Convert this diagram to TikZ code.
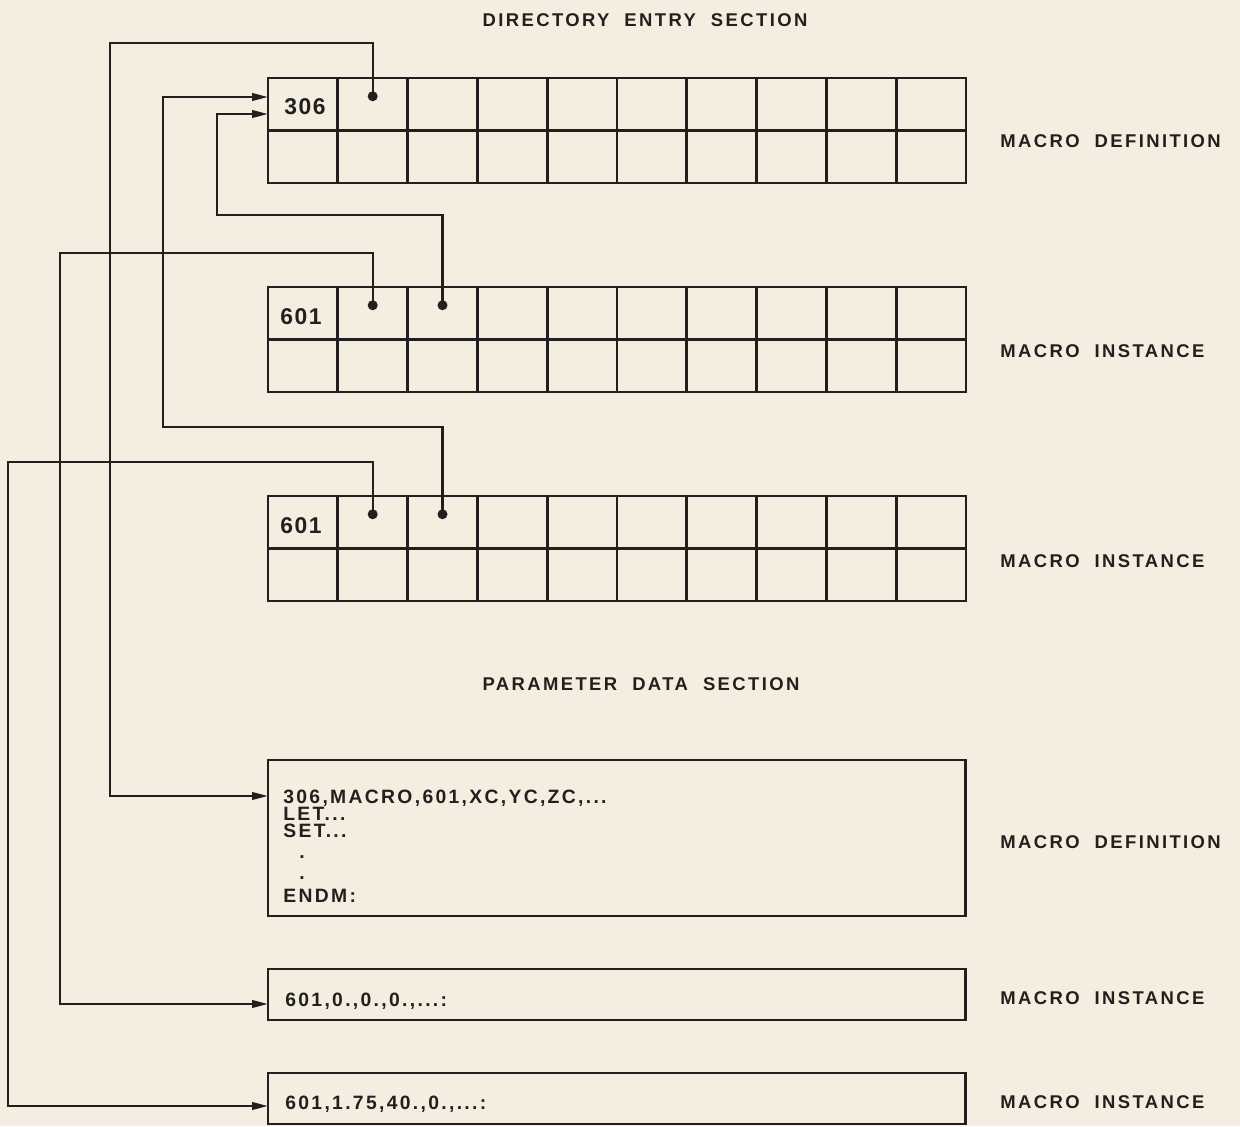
\documentclass[tikz,border=0pt]{standalone}
\usepackage{fontspec}
\newfontfamily\entryfont[LetterSpace=12]{Liberation Sans}
\newfontfamily\cellfont[LetterSpace=7]{Liberation Sans}
\newfontfamily\labelfont[LetterSpace=13, WordSpace=2]{Liberation Sans}
\usetikzlibrary{arrows.meta, positioning, calc}
\definecolor{paper}{RGB}{243,238,223}
\definecolor{ink}{RGB}{35,31,30}
\tikzset{
    cell/.style={rectangle, draw=ink, line width=1.6pt, minimum width=1.396cm, minimum height=1.05cm, inner sep=0pt, outer sep=0pt},
    databox/.style={rectangle, draw=ink, line width=1.6pt, minimum width=13.96cm, inner sep=0pt, outer sep=0pt, anchor=north west},
    entry/.style={font=\entryfont\bfseries\fontsize{11}{12}\selectfont, text=ink, inner sep=0pt, anchor=base west},
    cellnum/.style={font=\cellfont\bfseries\fontsize{13}{14}\selectfont, text=ink, inner sep=0pt},
    caption/.style={font=\labelfont\bfseries\fontsize{10.5}{12}\selectfont, text=ink, inner sep=0pt},
    link/.style={-{Triangle[length=0.32cm, width=0.15cm]}, draw=ink, line width=1.3pt},
    pin/.style={fill=ink}
}
\begin{document}
\begin{tikzpicture}[x=0.02cm, y=-0.02cm]
    \useasboundingbox (0,0) rectangle (1240,1126);
    \fill[paper] (0,0) rectangle (1240,1126);

    % directory entry section: three records of 2 x 10 cells
    \foreach \g/\ty in {def/78, insA/287, insB/496}{
        \foreach \c in {1,...,10}{
            \node[cell] (\g-\c) at ({302.9+(\c-1)*69.8}, {\ty+26.25}) {};
            \node[cell, below=0pt of \g-\c] (\g-\c-low) {};
        }
    }
    \node[cellnum] (num-def) at ($(def-1)+(2,2)$) {306};
    \node[cellnum] (num-insA) at ($(insA-1)+(-2,3)$) {601};
    \node[cellnum] (num-insB) at ($(insB-1)+(-2,3)$) {601};

    % parameter data section
    \node[databox, minimum height=3.12cm] (pdef) at (268,760) {};
    \node[databox, minimum height=1.02cm] (pinsA) at (268,969) {};
    \node[databox, minimum height=1.02cm] (pinsB) at (268,1073) {};

    \node[entry] (pdef-l1) at (283,803) {306,MACRO,601,XC,YC,ZC,...};
    \node[entry] (pdef-l2) at (283,820) {LET...};
    \node[entry] (pdef-l3) at (283,837) {SET...};
    \node[entry] (pdef-l4) at (299,858) {.};
    \node[entry] (pdef-l5) at (299,879) {.};
    \node[entry] (pdef-l6) at (283,902) {ENDM:};
    \node[entry] (pinsA-txt) at (285,1006) {601,0.,0.,0.,...:};
    \node[entry] (pinsB-txt) at (285,1109) {601,1.75,40.,0.,...:};

    % titles and labels
    \node[caption] (title-dir) at (645,20) {DIRECTORY ENTRY SECTION};
    \node[caption] (title-par) at (641,684) {PARAMETER DATA SECTION};
    \node[caption, anchor=west] (lab-def) at (1000,141) {MACRO DEFINITION};
    \node[caption, anchor=west] (lab-insA) at (1000,351) {MACRO INSTANCE};
    \node[caption, anchor=west] (lab-insB) at (1000,561) {MACRO INSTANCE};
    \node[caption, anchor=west] (lab-pdef) at (1000,842) {MACRO DEFINITION};
    \node[caption, anchor=west] (lab-pinsA) at (1000,998) {MACRO INSTANCE};
    \node[caption, anchor=west] (lab-pinsB) at (1000,1102) {MACRO INSTANCE};

    % pointers
    \coordinate (pin-def) at ($(def-2.center)+(0,-8)$);
    \coordinate (pin-insA-2) at ($(insA-2.center)+(0,-8)$);
    \coordinate (pin-insA-3) at ($(insA-3.center)+(0,-8)$);
    \coordinate (pin-insB-2) at ($(insB-2.center)+(0,-8)$);
    \coordinate (pin-insB-3) at ($(insB-3.center)+(0,-8)$);
    \foreach \p in {pin-def, pin-insA-2, pin-insA-3, pin-insB-2, pin-insB-3}
        \fill[pin] (\p) circle (0.1cm);

    \draw[link] (pin-def) |- (110,43) |- ($(pdef.north west)+(0,36)$);
    \draw[link] (pin-insB-3) |- (163,427) |- ($(def-1.north west)+(0,19)$);
    \draw[link] (pin-insA-3) |- (217,215) |- ($(def-1.north west)+(0,36)$);
    \draw[link] (pin-insA-2) |- (60,253) |- ($(pinsA.south west)+(0,-16)$);
    \draw[link] (pin-insB-2) |- (8,462) |- ($(pinsB.south west)+(0,-18)$);
\end{tikzpicture}
\end{document}
